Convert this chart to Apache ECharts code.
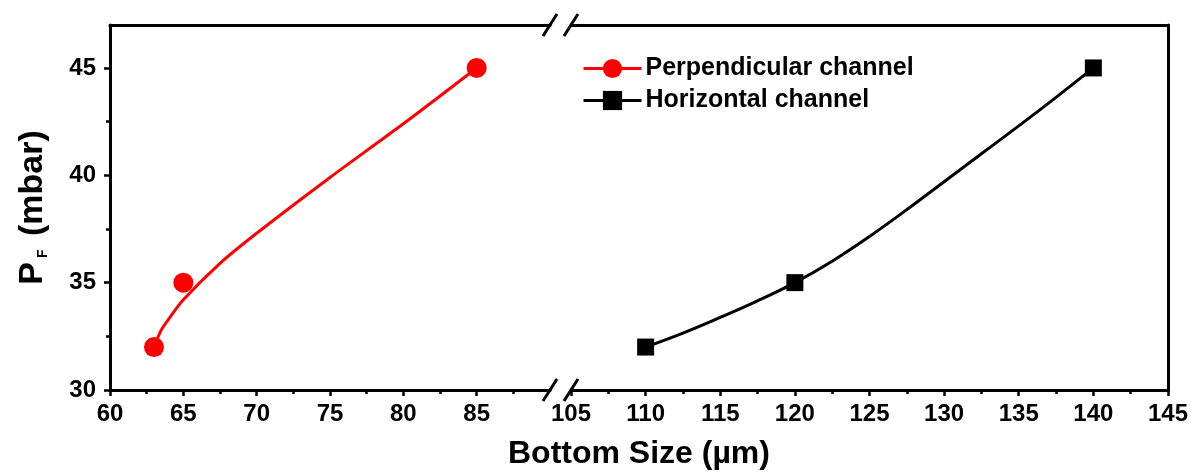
<!DOCTYPE html>
<html><head><meta charset="utf-8">
<script src="https://cdn.jsdelivr.net/npm/echarts@6/dist/echarts.min.js"></script>
<style>html,body{margin:0;padding:0;background:#fff}#c{width:1191px;height:475px}</style>
</head><body><div id="c"></div>
<script>
// ---- data ----
const perpPoints = [[63, 32], [65, 35], [85, 45]];
const horizPoints = [[110, 32], [120, 35], [140, 45]];
// fitted curves
const perpFit = [[63, 32], [63.5, 32.8], [64, 33.3], [65, 34.2], [67.5, 35.9], [70, 37.3], [75, 39.9], [80, 42.4], [85, 45]];
const horizFit = [[110, 32], [112.5, 32.65], [115, 33.38], [117.5, 34.15], [120, 35], [122.5, 36.0], [125, 37.15], [127.5, 38.4], [130, 39.7], [132.5, 41.0], [135, 42.3], [137.5, 43.63], [140, 45]];
const xTicksLeft = [60, 65, 70, 75, 80, 85];
const xMinorLeft = [62.5, 67.5, 72.5, 77.5, 82.5, 87.5];
const xTicksRight = [105, 110, 115, 120, 125, 130, 135, 140, 145];
const xMinorRight = [107.5, 112.5, 117.5, 122.5, 127.5, 132.5, 137.5, 142.5];
const yTicks = [30, 35, 40, 45];
const yMinor = [32.5, 37.5, 42.5];
const xRangeLeft = [60, 90];
const xRangeRight = [105, 145];
const yRange = [30, 47];
const seriesNames = ['Perpendicular channel', 'Horizontal channel'];
const xTitle = 'Bottom Size (µm)';

const FONT = 'Liberation Sans, Arial, sans-serif';
const AX = {color: '#000', width: 3};
const labelStyle = {color: '#000', fontFamily: FONT, fontWeight: 'bold', fontSize: 24};

function majorX(grid, range, ticks) {
  return {type: 'value', gridIndex: grid, position: 'bottom', min: range[0], max: range[1],
    axisLine: {show: true, lineStyle: AX, onZero: false},
    axisTick: {show: true, customValues: ticks, length: 6, lineStyle: {color: '#000', width: 2.5}},
    axisLabel: Object.assign({show: true, customValues: ticks, margin: 12}, labelStyle),
    splitLine: {show: false}};
}
function minorX(grid, range, ticks) {
  return {type: 'value', gridIndex: grid, position: 'bottom', min: range[0], max: range[1],
    axisLine: {show: false, onZero: false},
    axisTick: {show: true, customValues: ticks, length: 4, lineStyle: {color: '#000', width: 2.5}},
    axisLabel: {show: false}, splitLine: {show: false}};
}
function frameX(grid, range) {
  return {type: 'value', gridIndex: grid, position: 'top', min: range[0], max: range[1],
    axisLine: {show: true, lineStyle: AX, onZero: false}, axisTick: {show: false},
    axisLabel: {show: false}, splitLine: {show: false}};
}

const chart = echarts.init(document.getElementById('c'), null, {renderer: 'canvas'});
const option = {
  animation: false,
  backgroundColor: '#fff',
  grid: [
    {left: 110, top: 25, width: 440, height: 365},
    {left: 571, top: 25, width: 601, height: 365}
  ],
  xAxis: [
    majorX(0, xRangeLeft, xTicksLeft), minorX(0, xRangeLeft, xMinorLeft), frameX(0, xRangeLeft),
    majorX(1, xRangeRight, xTicksRight), minorX(1, xRangeRight, xMinorRight), frameX(1, xRangeRight)
  ],
  yAxis: [
    {type: 'value', gridIndex: 0, position: 'left', min: yRange[0], max: yRange[1],
      axisLine: {show: true, lineStyle: AX, onZero: false},
      axisTick: {show: true, customValues: yTicks, length: 6, lineStyle: {color: '#000', width: 2.5}},
      axisLabel: Object.assign({show: true, customValues: yTicks, margin: 14}, labelStyle),
      splitLine: {show: false},
      name: '{p|P}{s|F}{p| (mbar)}', nameLocation: 'middle', nameRotate: 90, nameGap: 60,
      nameTextStyle: {color: '#000', fontFamily: FONT, fontWeight: 'bold', fontSize: 34,
        rich: {p: {fontSize: 34, fontWeight: 'bold', fontFamily: FONT, color: '#000'},
               s: {fontSize: 14, fontWeight: 'bold', fontFamily: FONT, color: '#000', padding: [20, 4, 0, 4]}}}},
    {type: 'value', gridIndex: 0, position: 'left', min: yRange[0], max: yRange[1],
      axisLine: {show: false, onZero: false},
      axisTick: {show: true, customValues: yMinor, length: 4, lineStyle: {color: '#000', width: 2.5}},
      axisLabel: {show: false}, splitLine: {show: false}},
    {type: 'value', gridIndex: 1, position: 'left', min: yRange[0], max: yRange[1], show: false, splitLine: {show: false}},
    {type: 'value', gridIndex: 1, position: 'right', min: yRange[0], max: yRange[1],
      axisLine: {show: true, lineStyle: AX, onZero: false}, axisTick: {show: false},
      axisLabel: {show: false}, splitLine: {show: false}}
  ],
  legend: {
    data: seriesNames, orient: 'vertical', left: 582, top: 56, padding: 0,
    itemWidth: 58, itemHeight: 24, itemGap: 7,
    selectedMode: false,
    lineStyle: {width: 3},
    textStyle: {color: '#000', fontFamily: FONT, fontWeight: 'bold', fontSize: 25, padding: [0, 0, 0, -1]}
  },
  series: [
    {name: seriesNames[0], type: 'line', xAxisIndex: 0, yAxisIndex: 0, data: perpFit, smooth: 0.3,
      showSymbol: false, symbol: 'circle', symbolSize: 20,
      lineStyle: {color: '#ff0000', width: 3}, itemStyle: {color: '#ff0000'}, z: 2},
    {name: seriesNames[0], type: 'scatter', xAxisIndex: 0, yAxisIndex: 0, data: perpPoints,
      symbol: 'circle', symbolSize: 20, itemStyle: {color: '#ff0000', opacity: 1}, z: 3},
    {name: seriesNames[1], type: 'line', xAxisIndex: 3, yAxisIndex: 2, data: horizFit, smooth: 0.4,
      showSymbol: false, symbol: 'rect', symbolSize: 17,
      lineStyle: {color: '#000', width: 3}, itemStyle: {color: '#000'}, z: 2},
    {name: seriesNames[1], type: 'scatter', xAxisIndex: 3, yAxisIndex: 2, data: horizPoints,
      symbol: 'rect', symbolSize: 17, itemStyle: {color: '#000', opacity: 1}, z: 3}
  ]
};
chart.setOption(option);

// axis-break marks and x-axis title, positioned from the axes
const xBreakL = chart.convertToPixel({xAxisIndex: 0}, xRangeLeft[1]);
const xBreakR = chart.convertToPixel({xAxisIndex: 3}, xRangeRight[0]);
const xStart = chart.convertToPixel({xAxisIndex: 0}, xRangeLeft[0]);
const xEnd = chart.convertToPixel({xAxisIndex: 3}, xRangeRight[1]);
const yTop = chart.convertToPixel({yAxisIndex: 0}, yRange[1]);
const yBot = chart.convertToPixel({yAxisIndex: 0}, yRange[0]);
const marks = [];
[yTop, yBot].forEach(function (yy) {
  [xBreakL, xBreakR].forEach(function (xx) {
    marks.push({type: 'line', z: 100, shape: {x1: xx - 7, y1: yy + 11, x2: xx + 7, y2: yy - 11},
      style: {stroke: '#000', lineWidth: 3}});
  });
});
marks.push({type: 'text', z: 100, x: (xStart + xEnd) / 2, y: 454,
  style: {text: xTitle, fill: '#000', font: 'bold 32px ' + FONT, align: 'center', verticalAlign: 'middle'}});
chart.setOption({graphic: marks});
</script>
</body></html>
